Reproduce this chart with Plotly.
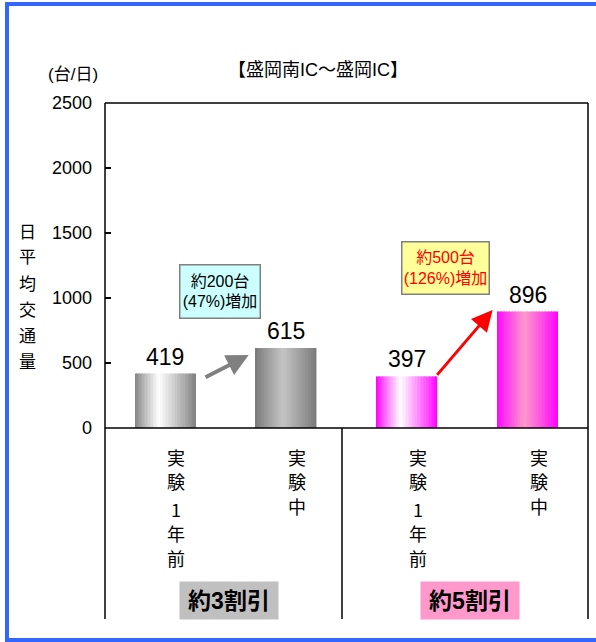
import plotly.graph_objects as go

# Daily traffic on the Morioka-Minami IC - Morioka IC section
categories = ["実験1年前(3割)", "実験中(3割)", "実験1年前(5割)", "実験中(5割)"]
category_labels = ["実験1年前", "実験中", "実験1年前", "実験中"]
traffic = [419, 615, 397, 896]
group_labels = ["約3割引", "約5割引"]
increase_labels = ["約200台<br>(47%)増加", "約500台<br>(126%)増加"]
y_title = "日平均交通量"
y_ticks = [0, 500, 1000, 1500, 2000, 2500]

# horizontal gradient per bar: (edge colour, highlight colour, highlight position)
bar_gradients = [
    ((128, 128, 128), (255, 255, 255), 0.40),
    ((120, 120, 120), (196, 196, 196), 0.45),
    ((255, 0, 255), (255, 255, 255), 0.40),
    ((255, 0, 255), (255, 153, 204), 0.45),
]

W, H = 596, 642
L, R, T, B = 105, 588, 103, 428
pw, ph = R - L, B - T


def px(x):
    return (x - L) / pw


def py(y):
    return (B - y) / ph


def blend(edge, mid, peak, t):
    s = t / peak if t < peak else (1 - t) / (1 - peak)
    s = s ** 0.9
    return "rgb(%d,%d,%d)" % tuple(round(e + (m - e) * s) for e, m in zip(edge, mid))


fig = go.Figure()

BAR_W = 0.5
N = 40
step = BAR_W / N
for k in range(N):
    t = (k + 0.5) / N
    fig.add_trace(go.Bar(
        x=categories, y=traffic,
        width=[step * 1.08] * len(categories),
        offset=[-BAR_W / 2 + k * step] * len(categories),
        marker=dict(color=[blend(e, m, p, t) for e, m, p in bar_gradients],
                    line=dict(width=0)),
        hoverinfo="skip", showlegend=False,
    ))

latin = "Liberation Sans, Arial, Noto Sans CJK JP"
cjk = "Noto Sans CJK JP, Liberation Sans"
mixed = "Liberation Sans, Noto Sans CJK JP"

ann = []


def text(x, y, s, font, xref="paper", yref="paper", **kw):
    d = dict(x=x, y=y, xref=xref, yref=yref, text=s, showarrow=False,
             xanchor="center", yanchor="middle", font=font)
    d.update(kw)
    ann.append(d)


# value labels above bars
for i, v in enumerate(traffic):
    text(i, v, str(v), dict(family=latin, size=23, color="black"),
         xref="x", yref="y", yanchor="bottom", yshift=2)

# vertical category labels, one character per row
row_y = [457, 481, 509, 533, 558]
for i, lab in enumerate(category_labels):
    for j, ch in enumerate(lab):
        text(i, py(row_y[j] if len(lab) == 5 else [457, 481, 506][j]), ch,
             dict(family=cjk, size=18, color="black"), xref="x", xshift=11)

# discount group boxes
for g, (lab, bg) in enumerate(zip(group_labels, ["#c0c0c0", "#ff99cc"])):
    text(2 * g + 0.5, py(600), "<b>%s</b>" % lab,
         dict(family=mixed, size=23, color="black"), xref="x", xshift=3,
         bgcolor=bg, width=94, height=33, borderpad=2)

# increase arrows
ann.append(dict(x=0.69, y=traffic[1] - 54, ax=0.32, ay=traffic[0] - 34,
                xref="x", yref="y", axref="x", ayref="y", text="",
                showarrow=True, arrowhead=2, arrowsize=1.1, arrowwidth=4,
                arrowcolor="#808080"))
ann.append(dict(x=2.71, y=traffic[3] + 12, ax=2.24, ay=traffic[2],
                xref="x", yref="y", axref="x", ayref="y", text="",
                showarrow=True, arrowhead=2, arrowsize=1.4, arrowwidth=3,
                arrowcolor="#ff0000"))

# increase callouts
text(px(220), py(291.5), increase_labels[0], dict(family=mixed, size=16, color="black"),
     bgcolor="#ccffff", bordercolor="#808080", borderwidth=1.5,
     width=77, height=50, borderpad=1)
text(px(445.5), py(268), increase_labels[1], dict(family=mixed, size=16, color="#ff0000"),
     bgcolor="#ffff99", bordercolor="#808080", borderwidth=1.5,
     width=84, height=49, borderpad=1)

# title, unit, axis title
text(px(318), py(70), "【盛岡南IC～盛岡IC】", dict(family=mixed, size=18, color="black"))
text(px(73), py(74), "(台/日)", dict(family=mixed, size=17, color="black"))
for j, ch in enumerate(y_title):
    text(px(27), py(230 + 26 * j), ch, dict(family=cjk, size=17, color="black"))

shapes = []
line = dict(color="black", width=1.5)
bottom = py(619)
shapes.append(dict(type="line", xref="paper", yref="paper", x0=0, x1=1, y0=1, y1=1, line=line))
shapes.append(dict(type="line", xref="paper", yref="paper", x0=1, x1=1, y0=1, y1=bottom, line=line))
shapes.append(dict(type="line", xref="paper", yref="paper", x0=0, x1=0, y0=1, y1=bottom, line=line))
shapes.append(dict(type="line", xref="paper", yref="paper", x0=0, x1=1, y0=0, y1=0, line=line))
shapes.append(dict(type="line", xref="paper", yref="paper", x0=px(342), x1=px(342), y0=0, y1=bottom, line=line))

# outer blue frame
blue = dict(color="#3366ff", width=4)
shapes.append(dict(type="line", xref="paper", yref="paper", x0=px(7), x1=px(7), y0=py(3), y1=py(640), line=blue))
shapes.append(dict(type="line", xref="paper", yref="paper", x0=px(5), x1=px(600), y0=py(4), y1=py(4), line=blue))
shapes.append(dict(type="line", xref="paper", yref="paper", x0=px(5), x1=px(600), y0=py(640), y1=py(640), line=blue))

fig.update_layout(
    width=W, height=H,
    margin=dict(l=L, r=W - R, t=T, b=H - B),
    paper_bgcolor="white", plot_bgcolor="white",
    barmode="overlay", showlegend=False,
    annotations=ann, shapes=shapes,
    xaxis=dict(type="category", range=[-0.5, 3.5], showticklabels=False,
               showgrid=False, zeroline=False, showline=False, ticks=""),
    yaxis=dict(range=[0, 2500], tickvals=y_ticks, ticks="inside", ticklen=6,
               tickcolor="black", tickwidth=1.5, showgrid=False, zeroline=False,
               showline=False, ticklabelstandoff=12,
               tickfont=dict(family=latin, size=18, color="black")),
)

fig.write_html("out.html")
